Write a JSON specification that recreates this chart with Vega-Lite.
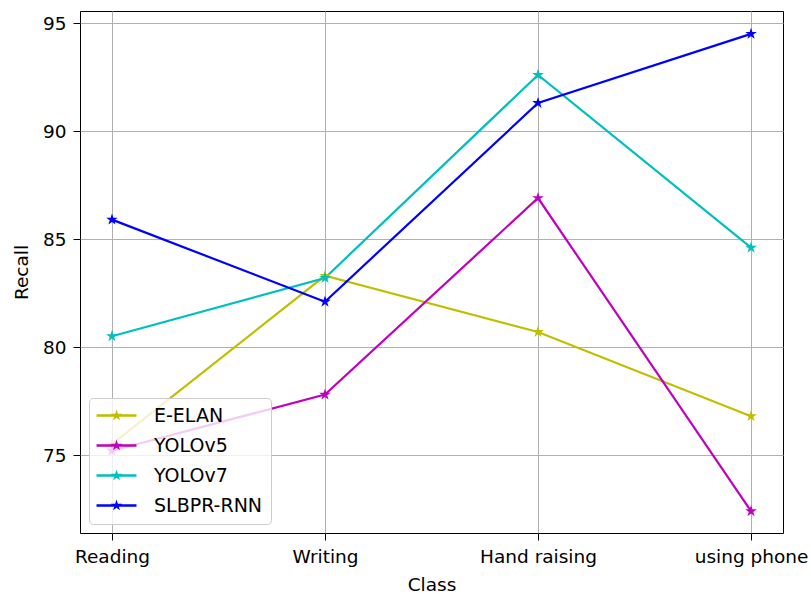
{
  "$schema": "https://vega.github.io/schema/vega-lite/v6.json",
  "autosize": "none",
  "width": 703,
  "height": 522,
  "padding": {"left": 80, "top": 11, "right": 28, "bottom": 62},
  "background": "white",
  "data": {
    "values": [
      {"class": "Reading", "model": "E-ELAN", "recall": 75.5},
      {"class": "Writing", "model": "E-ELAN", "recall": 83.3},
      {"class": "Hand raising", "model": "E-ELAN", "recall": 80.7},
      {"class": "using phone", "model": "E-ELAN", "recall": 76.8},
      {"class": "Reading", "model": "YOLOv5", "recall": 75.2},
      {"class": "Writing", "model": "YOLOv5", "recall": 77.8},
      {"class": "Hand raising", "model": "YOLOv5", "recall": 86.9},
      {"class": "using phone", "model": "YOLOv5", "recall": 72.4},
      {"class": "Reading", "model": "YOLOv7", "recall": 80.5},
      {"class": "Writing", "model": "YOLOv7", "recall": 83.2},
      {"class": "Hand raising", "model": "YOLOv7", "recall": 92.6},
      {"class": "using phone", "model": "YOLOv7", "recall": 84.6},
      {"class": "Reading", "model": "SLBPR-RNN", "recall": 85.9},
      {"class": "Writing", "model": "SLBPR-RNN", "recall": 82.1},
      {"class": "Hand raising", "model": "SLBPR-RNN", "recall": 91.3},
      {"class": "using phone", "model": "SLBPR-RNN", "recall": 94.5}
    ]
  },
  "encoding": {
    "x": {
      "field": "class", "type": "ordinal",
      "sort": ["Reading", "Writing", "Hand raising", "using phone"],
      "scale": {"type": "point", "padding": 0.15},
      "axis": {"title": "Class", "labelAngle": 0, "labelPadding": 7, "titlePadding": 10}
    },
    "y": {
      "field": "recall", "type": "quantitative",
      "scale": {"domain": [71.39, 95.56], "nice": false, "zero": false},
      "axis": {"title": "Recall", "values": [75, 80, 85, 90, 95], "labelPadding": 7, "titlePadding": 11}
    },
    "color": {
      "field": "model", "type": "nominal",
      "scale": {"domain": ["E-ELAN", "YOLOv5", "YOLOv7", "SLBPR-RNN"], "range": ["#bfbf00", "#bf00bf", "#00bfbf", "#0000ff"]},
      "legend": {
        "title": null,
        "orient": "bottom-left",
        "offset": 9,
        "padding": 8,
        "fillColor": "rgba(255,255,255,0.8)",
        "strokeColor": "#cccccc",
        "cornerRadius": 4,
        "labelFontSize": 19,
        "labelColor": "black",
        "labelOffset": 28,
        "symbolOffset": 10,
        "symbolType": "M-2.22,-0.128L2.22,-0.128L2.22,0.128L-2.22,0.128Z M0,-0.667L0.1497,-0.2061L0.6343,-0.2061L0.2421,0.0787L0.3922,0.5396L0,0.2548L-0.3922,0.5396L-0.2421,0.0787L-0.6343,-0.2061L-0.1497,-0.2061Z",
        "symbolSize": 324,
        "symbolStrokeWidth": 0,
        "symbolOpacity": 1,
        "rowPadding": 10
      }
    }
  },
  "layer": [
    {"mark": {"type": "line", "strokeWidth": 2.2}},
    {"mark": {"type": "point", "filled": true, "opacity": 1, "size": 150,
      "shape": "M0,-1L0.2245,-0.309L0.951,-0.309L0.363,0.118L0.588,0.809L0,0.382L-0.588,0.809L-0.363,0.118L-0.951,-0.309L-0.2245,-0.309Z"}}
  ],
  "config": {
    "font": "DejaVu Sans",
    "view": {"stroke": "black", "strokeWidth": 1},
    "axis": {
      "domain": false, "grid": true, "gridColor": "#b0b0b0", "gridWidth": 1,
      "tickColor": "black", "tickSize": 7, "tickWidth": 1,
      "labelFontSize": 18.5, "labelColor": "black",
      "titleFontSize": 18.5, "titleFontWeight": "normal", "titleColor": "black"
    }
  }
}
